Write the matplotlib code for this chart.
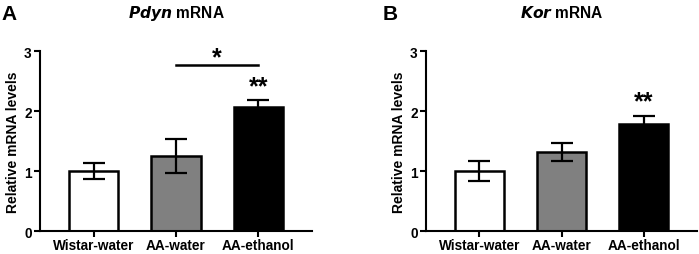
import matplotlib.pyplot as plt

plt.rcParams['font.family'] = ['Liberation Sans', 'DejaVu Sans']
plt.rcParams['font.weight'] = 'bold'

groups = ['Wistar-water', 'AA-water', 'AA-ethanol']
colors = ['white', '#808080', 'black']

pdyn_mean = [1.00, 1.25, 2.06]
pdyn_err = [0.14, 0.28, 0.13]
kor_mean = [1.00, 1.32, 1.79]
kor_err = [0.17, 0.15, 0.12]

fig = plt.figure(figsize=(6.99, 2.55), dpi=100)
axA = fig.add_axes([0.0572, 0.090, 0.389, 0.706])
axB = fig.add_axes([0.6094, 0.090, 0.388, 0.706])


def draw(ax, means, errs, title_gene, letter, xoff):
    x = range(len(groups))
    ax.bar(x, means, width=0.6, color=colors, edgecolor='black', linewidth=1.8, zorder=2)
    ax.errorbar(x, means, yerr=errs, fmt='none', ecolor='black', elinewidth=1.6,
                capsize=8, capthick=1.6, zorder=3)
    ax.set_xlim(-0.65, 2.65)
    ax.set_ylim(0, 3)
    ax.set_yticks([0, 1, 2, 3])
    ax.set_xticks(list(x))
    ax.set_xticklabels(groups, fontsize=9.8, fontweight='bold')
    ax.tick_params(axis='y', labelsize=9.8, width=1.5, length=4, pad=2)
    ax.tick_params(axis='x', width=1.5, length=4, pad=1)
    for lab in ax.get_yticklabels():
        lab.set_fontweight('bold')
    for s in ['top', 'right']:
        ax.spines[s].set_visible(False)
    for s in ['left', 'bottom']:
        ax.spines[s].set_linewidth(1.5)
    ax.set_ylabel('Relative mRNA levels', fontsize=10, fontweight='bold', labelpad=3)
    ax.text(0.5, 1.215, r'$\mathbf{\mathit{' + title_gene + r'}}$ mRNA', fontsize=11.2,
            fontweight='bold', ha='center', va='center', transform=ax.transAxes)
    fig.text(xoff, 0.945, letter, fontsize=15, fontweight='bold', va='center')


draw(axA, pdyn_mean, pdyn_err, 'Pdyn', 'A', 0.002)
draw(axB, kor_mean, kor_err, 'Kor', 'B', 0.547)

# significance marks
axA.plot([1, 2], [2.77, 2.77], color='black', lw=1.8, clip_on=False)
axA.text(1.5, 2.9, '*', ha='center', va='center', fontsize=18, fontweight='bold')
axA.text(2, 2.42, '**', ha='center', va='center', fontsize=18, fontweight='bold')
axB.text(2, 2.17, '**', ha='center', va='center', fontsize=18, fontweight='bold')

fig.savefig('out.png', dpi=100)
